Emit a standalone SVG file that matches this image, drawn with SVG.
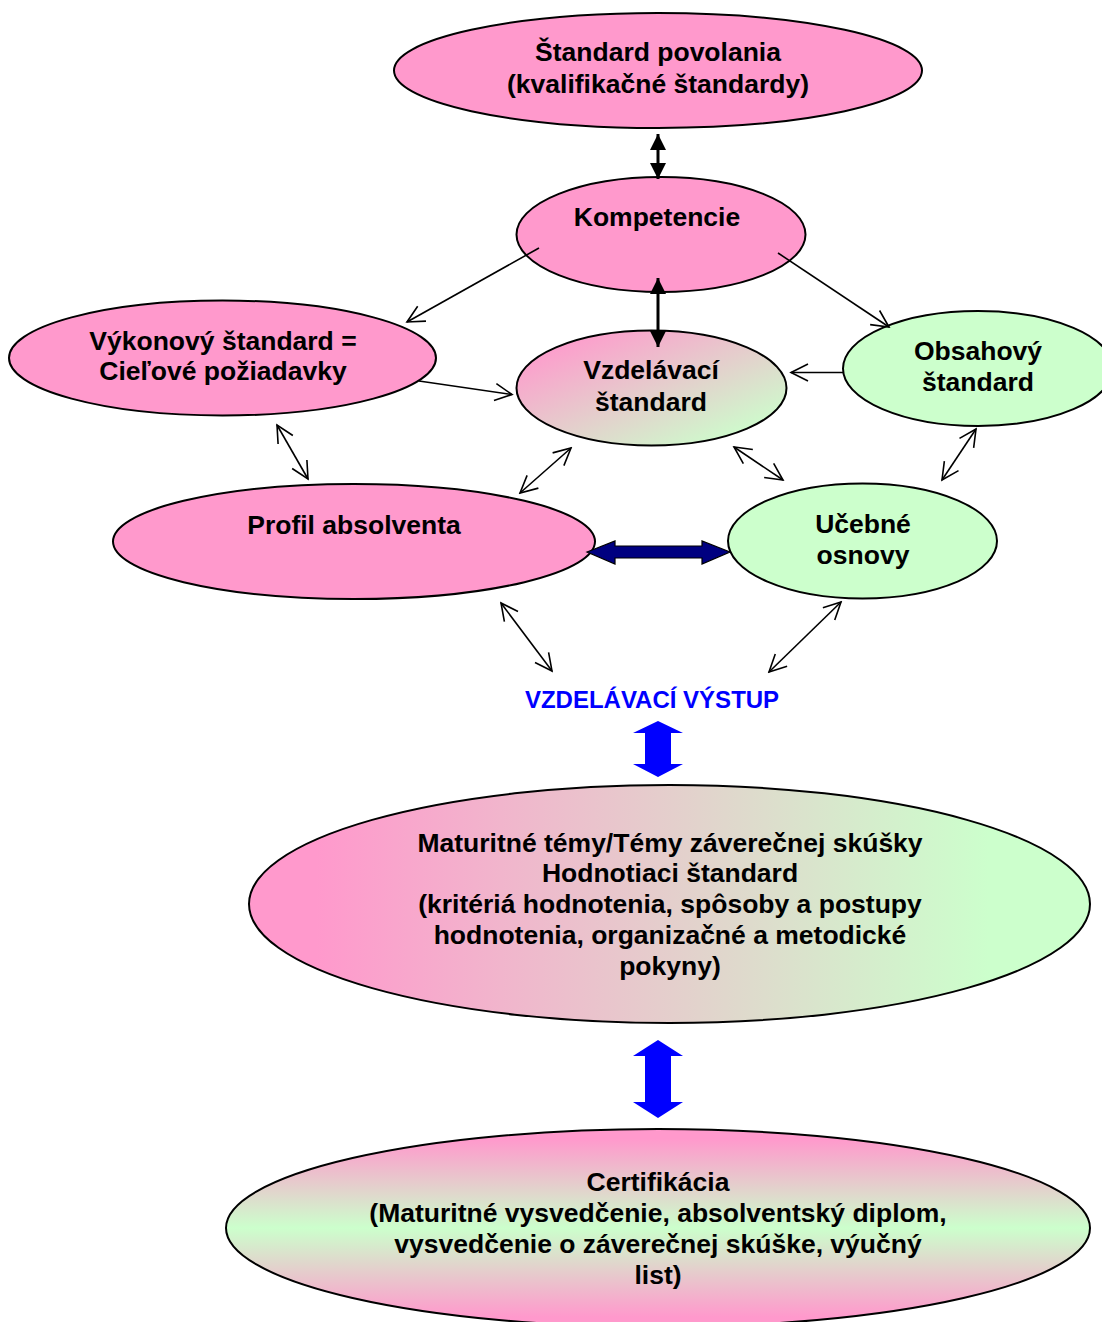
<svg xmlns="http://www.w3.org/2000/svg" width="1102" height="1322" viewBox="0 0 1102 1322">
<style>
.node{stroke:#000;stroke-width:2}
.pink{fill:#FF99CC}
.green{fill:#CCFFCC}
text{font-family:"Liberation Sans",Arial,sans-serif;font-weight:bold;font-size:26.5px;fill:#000;text-anchor:middle}
.blue{fill:#0000FF;font-size:24px}
.thin{stroke:#000;stroke-width:1.6;fill:none;marker-start:url(#open);marker-end:url(#open)}
.one{stroke:#000;stroke-width:1.6;fill:none;marker-end:url(#open)}
.thick{stroke:#000;stroke-width:3;fill:none;marker-start:url(#solid);marker-end:url(#solid)}
</style>
<defs>
<marker id="open" markerUnits="userSpaceOnUse" viewBox="0 0 20 20" markerWidth="20" markerHeight="20" refX="18" refY="10" orient="auto-start-reverse">
<path d="M1,1.5 L18,10 L1,18.5" fill="none" stroke="#000" stroke-width="1.6"/>
</marker>
<marker id="solid" markerUnits="userSpaceOnUse" viewBox="0 0 16 16" markerWidth="16" markerHeight="16" refX="16" refY="8" orient="auto-start-reverse">
<path d="M0,0 L16,8 L0,16 Z" fill="#000"/>
</marker>
<linearGradient id="gDiag" x1="0" y1="0" x2="1" y2="1">
<stop offset="0.1" stop-color="#FF99CC"/>
<stop offset="0.9" stop-color="#CCFFCC"/>
</linearGradient>
<linearGradient id="gHor" x1="0" y1="0" x2="1" y2="0">
<stop offset="0.08" stop-color="#FF99CC"/>
<stop offset="0.88" stop-color="#CCFFCC"/>
</linearGradient>
<linearGradient id="gVert" x1="0" y1="0" x2="0" y2="1">
<stop offset="0.05" stop-color="#FF99CC"/>
<stop offset="0.5" stop-color="#CCFFCC"/>
<stop offset="0.95" stop-color="#FF99CC"/>
</linearGradient>
</defs>

<g id="n-standard-povolania">
<ellipse class="node pink" cx="658" cy="70.5" rx="264" ry="57.5"/>
<text x="658" y="61">Štandard povolania</text>
<text x="658" y="93">(kvalifikačné štandardy)</text>
</g>

<g id="n-kompetencie">
<ellipse class="node pink" cx="661" cy="234.5" rx="144.5" ry="57.5"/>
<text x="657" y="226">Kompetencie</text>
</g>

<g id="n-vykonovy">
<ellipse class="node pink" cx="222.5" cy="358" rx="213.5" ry="57.5"/>
<text x="223" y="350">Výkonový štandard =</text>
<text x="223" y="380">Cieľové požiadavky</text>
</g>

<g id="n-vzdelavaci">
<ellipse class="node" fill="url(#gDiag)" cx="651.5" cy="388" rx="135" ry="57.5"/>
<text x="651" y="379">Vzdelávací</text>
<text x="651" y="411">štandard</text>
</g>

<g id="n-obsahovy">
<ellipse class="node green" cx="978" cy="368.5" rx="135" ry="57.5"/>
<text x="978" y="360">Obsahový</text>
<text x="978" y="391">štandard</text>
</g>

<g id="n-profil">
<ellipse class="node pink" cx="354" cy="541.5" rx="241" ry="57.5"/>
<text x="354" y="534">Profil absolventa</text>
</g>

<g id="n-ucebne">
<ellipse class="node green" cx="862.5" cy="541" rx="134.5" ry="57.5"/>
<text x="863" y="533">Učebné</text>
<text x="863" y="564">osnovy</text>
</g>

<g id="n-vystup">
<text class="blue" x="652" y="707.5">VZDELÁVACÍ VÝSTUP</text>
</g>

<g id="n-maturitne">
<ellipse class="node" fill="url(#gHor)" cx="669.5" cy="904" rx="420.5" ry="119"/>
<text x="670" y="852">Maturitné témy/Témy záverečnej skúšky</text>
<text x="670" y="882">Hodnotiaci štandard</text>
<text x="670" y="913">(kritériá hodnotenia, spôsoby a postupy</text>
<text x="670" y="944">hodnotenia, organizačné a metodické</text>
<text x="670" y="975">pokyny)</text>
</g>

<g id="n-certifikacia">
<ellipse class="node" fill="url(#gVert)" cx="658" cy="1228" rx="432" ry="99"/>
<text x="658" y="1191">Certifikácia</text>
<text x="658" y="1222">(Maturitné vysvedčenie, absolventský diplom,</text>
<text x="658" y="1253">vysvedčenie o záverečnej skúške, výučný</text>
<text x="658" y="1284">list)</text>
</g>

<g id="connectors">
<line class="thick" x1="658" y1="134" x2="658" y2="179"/>
<line class="thick" x1="658" y1="278" x2="658" y2="347"/>
<line class="one" x1="539" y1="248" x2="407" y2="322"/>
<line class="one" x1="778" y1="253" x2="889" y2="327"/>
<line class="one" x1="419" y1="381" x2="512" y2="394.5"/>
<line class="one" x1="843" y1="372.5" x2="791" y2="372.5"/>
<line class="thin" x1="277" y1="425" x2="308" y2="479"/>
<line class="thin" x1="571" y1="448" x2="520" y2="493"/>
<line class="thin" x1="734" y1="447" x2="783" y2="480"/>
<line class="thin" x1="976" y1="429" x2="942" y2="480"/>
<line class="thin" x1="501" y1="603" x2="552" y2="671"/>
<line class="thin" x1="841" y1="602" x2="769" y2="672"/>
<path d="M587,552 L615,541 L615,546 L702,546 L702,541 L730,552 L702,564 L702,558 L615,558 L615,564 Z" fill="#000080" stroke="#000" stroke-width="1.2"/>
<path d="M658,721 L683,733 L671,733 L671,764 L683,764 L658,777 L633,764 L645,764 L645,733 L633,733 Z" fill="#0000FF"/>
<path d="M658,1040 L683,1056 L671,1056 L671,1102 L683,1102 L658,1118 L633,1102 L645,1102 L645,1056 L633,1056 Z" fill="#0000FF"/>
</g>
</svg>
